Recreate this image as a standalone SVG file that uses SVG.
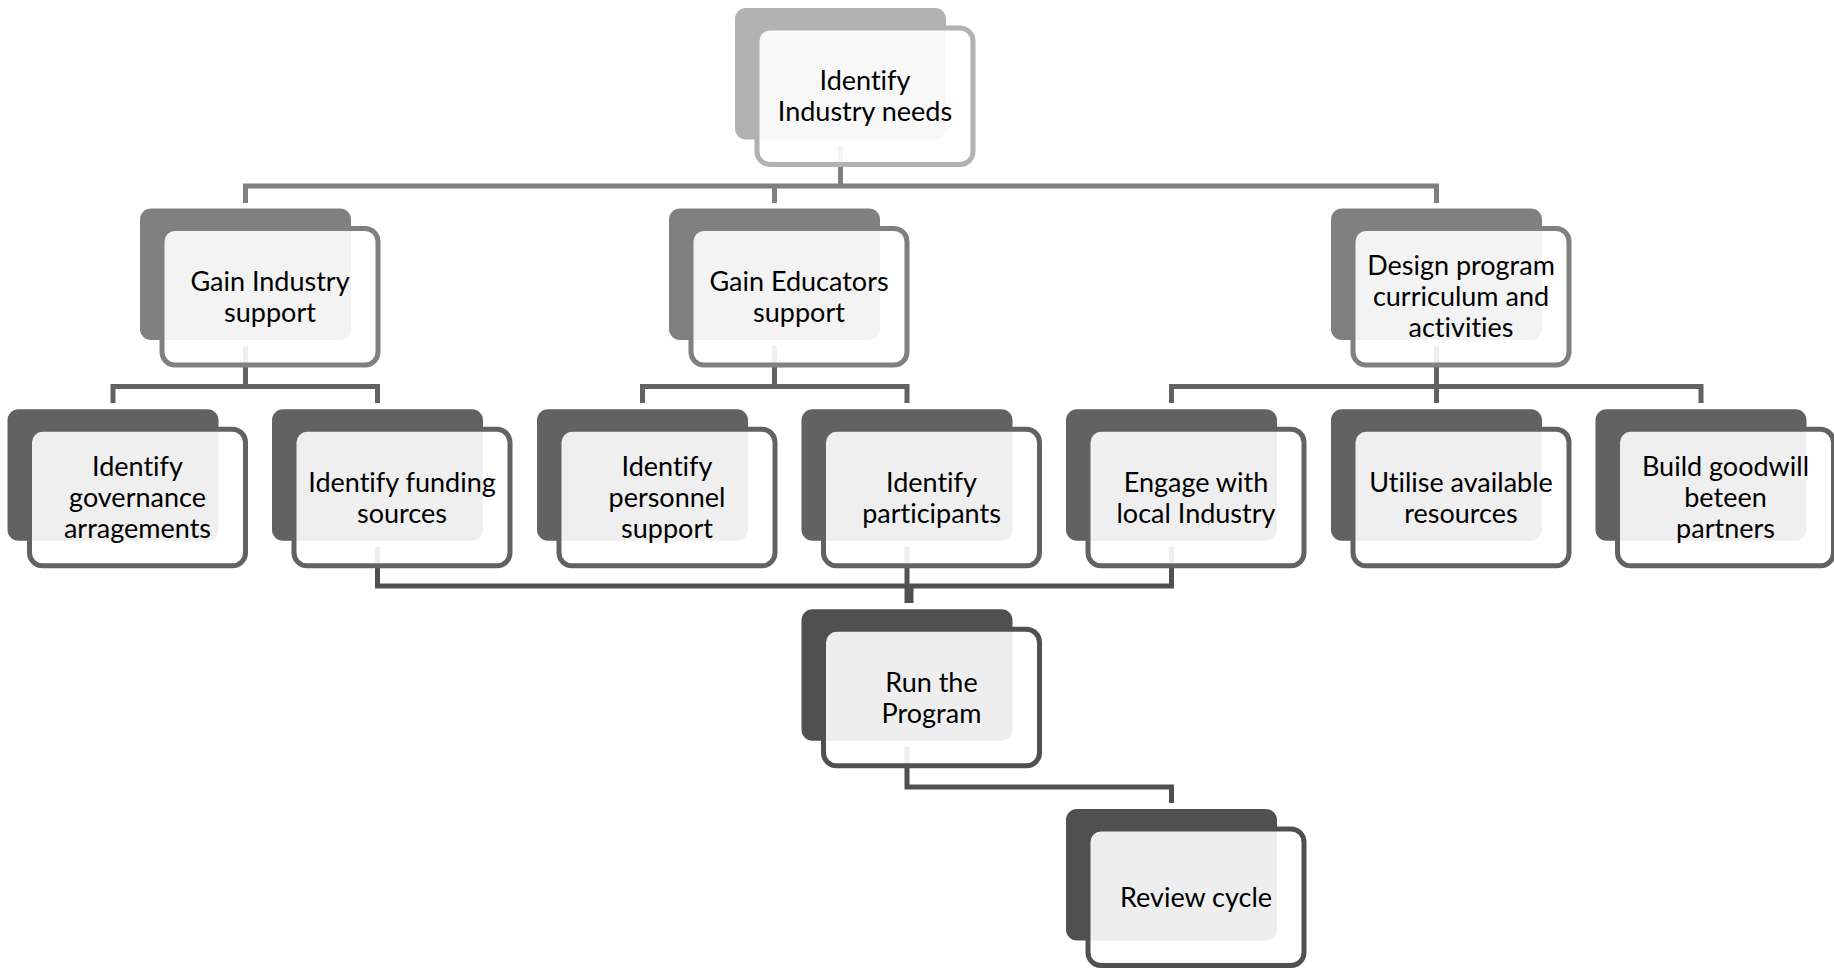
<svg xmlns="http://www.w3.org/2000/svg" width="1834" height="969" viewBox="0 0 1834 969">
<style>
  .bk{stroke:none}
  .k1{fill:#b2b2b2}
  .k2{fill:#808080}
  .k3{fill:#626262}
  .k4{fill:#505050}
  .fr{fill:#ffffff;fill-opacity:0.9;stroke-width:5}
  .s1{stroke:#b2b2b2}
  .s2{stroke:#808080}
  .s3{stroke:#626262}
  .s4{stroke:#505050}
  .ln{fill:none;stroke-width:5;stroke-linejoin:miter;stroke-linecap:butt}
  text{font-family:Lato,"Liberation Sans",sans-serif;font-size:27px;fill:#000;text-anchor:middle;font-variant-ligatures:none;font-feature-settings:"liga" 0}
</style>
<g id="connectors">
  <path class="ln s2" d="M245.5,203 V186 H1436.5 V203 M774.5,186 V203 M840.5,146 V186"/>
  <path class="ln s3" d="M113,403 V386.5 H377.5 V403 M245.5,346 V386.5"/>
  <path class="ln s3" d="M642.5,403 V386.5 H907 V403 M774.5,346 V386.5"/>
  <path class="ln s3" d="M1171.5,403 V386.5 H1701 V403 M1436.5,346 V403"/>
  <path class="ln s4" d="M377.5,547 V586 H1171.5 V547 M907,547 V586"/>
  <path class="ln s4" style="stroke-width:9" d="M909,586 V603"/>
  <path class="ln s4" d="M907,747 V787 H1171.5 V803"/>
</g>
<g id="n-top">
  <rect class="bk k1" x="735" y="8" width="211" height="131.5" rx="11"/>
  <rect class="fr s1" x="757" y="28" width="216" height="136.5" rx="13"/>
  <text x="865" y="90.25">Identify<tspan x="865" dy="31">Industry needs</tspan></text>
</g>
<g id="n-gain-industry">
  <rect class="bk k2" x="140" y="208.5" width="211" height="131.5" rx="11"/>
  <rect class="fr s2" x="162" y="228.5" width="216" height="136.5" rx="13"/>
  <text x="270" y="290.75">Gain Industry<tspan x="270" dy="31">support</tspan></text>
</g>
<g id="n-gain-educators">
  <rect class="bk k2" x="669" y="208.5" width="211" height="131.5" rx="11"/>
  <rect class="fr s2" x="691" y="228.5" width="216" height="136.5" rx="13"/>
  <text x="799" y="290.75">Gain Educators<tspan x="799" dy="31">support</tspan></text>
</g>
<g id="n-design">
  <rect class="bk k2" x="1331" y="208.5" width="211" height="131.5" rx="11"/>
  <rect class="fr s2" x="1353" y="228.5" width="216" height="136.5" rx="13"/>
  <text x="1461" y="275.25">Design program<tspan x="1461" dy="31">curriculum and</tspan><tspan x="1461" dy="31">activities</tspan></text>
</g>
<g id="n-governance">
  <rect class="bk k3" x="7.5" y="409.3" width="211" height="131.5" rx="11"/>
  <rect class="fr s3" x="29.5" y="429.3" width="216" height="136.5" rx="13"/>
  <text x="137.5" y="476">Identify<tspan x="137.5" dy="31">governance</tspan><tspan x="137.5" dy="31">arragements</tspan></text>
</g>
<g id="n-funding">
  <rect class="bk k3" x="272" y="409.3" width="211" height="131.5" rx="11"/>
  <rect class="fr s3" x="294" y="429.3" width="216" height="136.5" rx="13"/>
  <text x="402" y="491.5">Identify funding<tspan x="402" dy="31">sources</tspan></text>
</g>
<g id="n-personnel">
  <rect class="bk k3" x="537" y="409.3" width="211" height="131.5" rx="11"/>
  <rect class="fr s3" x="559" y="429.3" width="216" height="136.5" rx="13"/>
  <text x="667" y="476">Identify<tspan x="667" dy="31">personnel</tspan><tspan x="667" dy="31">support</tspan></text>
</g>
<g id="n-participants">
  <rect class="bk k3" x="801.5" y="409.3" width="211" height="131.5" rx="11"/>
  <rect class="fr s3" x="823.5" y="429.3" width="216" height="136.5" rx="13"/>
  <text x="931.5" y="491.5">Identify<tspan x="931.5" dy="31">participants</tspan></text>
</g>
<g id="n-engage">
  <rect class="bk k3" x="1066" y="409.3" width="211" height="131.5" rx="11"/>
  <rect class="fr s3" x="1088" y="429.3" width="216" height="136.5" rx="13"/>
  <text x="1196" y="491.5">Engage with<tspan x="1196" dy="31">local Industry</tspan></text>
</g>
<g id="n-utilise">
  <rect class="bk k3" x="1331" y="409.3" width="211" height="131.5" rx="11"/>
  <rect class="fr s3" x="1353" y="429.3" width="216" height="136.5" rx="13"/>
  <text x="1461" y="491.5">Utilise available<tspan x="1461" dy="31">resources</tspan></text>
</g>
<g id="n-goodwill">
  <rect class="bk k3" x="1595.5" y="409.3" width="211" height="131.5" rx="11"/>
  <rect class="fr s3" x="1617.5" y="429.3" width="216" height="136.5" rx="13"/>
  <text x="1725.5" y="476">Build goodwill<tspan x="1725.5" dy="31">beteen</tspan><tspan x="1725.5" dy="31">partners</tspan></text>
</g>
<g id="n-run">
  <rect class="bk k4" x="801.5" y="609.3" width="211" height="131.5" rx="11"/>
  <rect class="fr s4" x="823.5" y="629.3" width="216" height="136.5" rx="13"/>
  <text x="931.5" y="691.5">Run the<tspan x="931.5" dy="31">Program</tspan></text>
</g>
<g id="n-review">
  <rect class="bk k4" x="1066" y="809" width="211" height="131.5" rx="11"/>
  <rect class="fr s4" x="1088" y="829" width="216" height="136.5" rx="13"/>
  <text x="1196" y="906.75">Review cycle</text>
</g>
</svg>
